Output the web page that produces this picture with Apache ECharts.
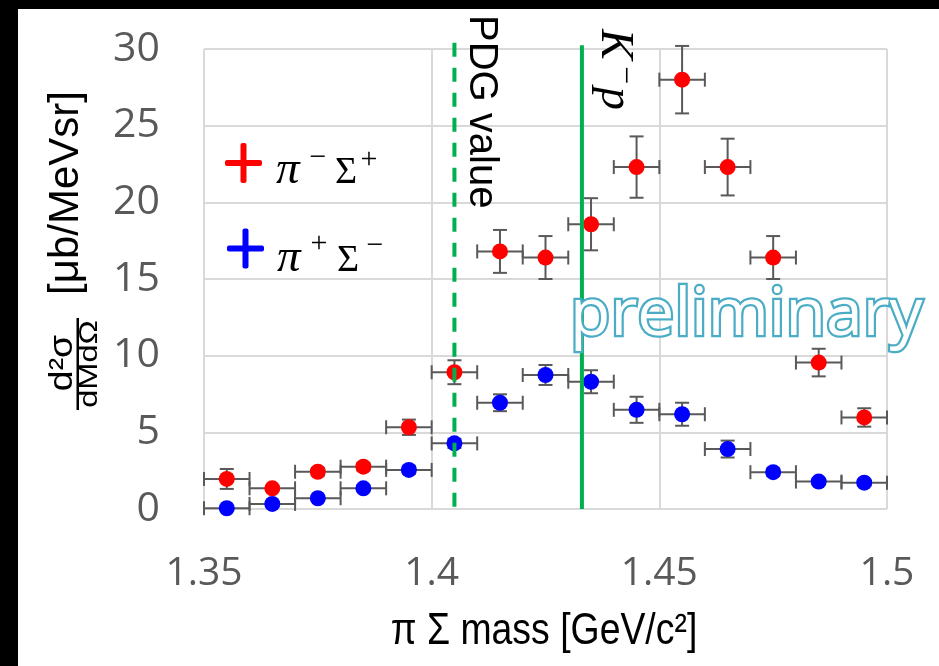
<!DOCTYPE html>
<html><head><meta charset="utf-8">
<script src="https://cdn.jsdelivr.net/npm/echarts@6/dist/echarts.min.js"></script>
<style>html,body{margin:0;padding:0;background:#fff}#c{width:939px;height:666px}</style>
</head><body><div id="c"></div>
<script>
// ---- data ----
const massCenters = [1.355,1.365,1.375,1.385,1.395,1.405,1.415,1.425,1.435,1.445,1.455,1.465,1.475,1.485,1.495];
const binHalfWidth = 0.005;
const piMinusSigmaPlus    = [1.96,1.35,2.43,2.76,5.33,8.92,16.8,16.4,18.57,22.3,28.0,22.3,16.4,9.55,5.97];
const piMinusSigmaPlusErr = [0.65,0.15,0.25,0.25,0.5,0.78,1.4,1.4,1.7,2.0,2.2,1.85,1.4,0.9,0.6];
const piPlusSigmaMinus    = [0.05,0.33,0.7,1.35,2.55,4.28,6.93,8.74,8.3,6.47,6.18,3.91,2.4,1.79,1.72];
const piPlusSigmaMinusErr = [0.1,0.15,0.15,0.2,0.25,0.3,0.55,0.65,0.75,0.85,0.75,0.55,0.25,0.2,0.2];
const pdgMass = 1.405;
const kpThreshold = 1.433;
const xTickLabels = ['1.35','1.4','1.45','1.5'];
const yTickLabels = ['0','5','10','15','20','25','30'];
const xMin = 1.35, xMax = 1.5, xStep = 0.05;
const yMin = 0, yMax = 30, yStep = 5;

// ---- chart ----
const chart = echarts.init(document.getElementById('c'), null, {renderer:'canvas'});
const tickGray = '#595959';
const errColor = '#595959';

function errRender(params, api) {
  const x = api.value(0), y = api.value(1), e = api.value(2);
  const l = api.coord([x - binHalfWidth, y]);
  const r = api.coord([x + binHalfWidth, y]);
  const t = api.coord([x, y + e]);
  const b = api.coord([x, y - e]);
  const cap = 7;
  const st = {stroke: errColor, lineWidth: 2};
  const L = (x1,y1,x2,y2) => ({type:'line', shape:{x1,y1,x2,y2}, style:st});
  return {type:'group', children:[
    L(l[0],l[1],r[0],r[1]),
    L(l[0],l[1]-cap,l[0],l[1]+cap),
    L(r[0],r[1]-cap,r[0],r[1]+cap),
    L(t[0],t[1],b[0],b[1]),
    L(t[0]-cap,t[1],t[0]+cap,t[1]),
    L(b[0]-cap,b[1],b[0]+cap,b[1])
  ]};
}
const redData = massCenters.map((m,i)=>[m, piMinusSigmaPlus[i], piMinusSigmaPlusErr[i]]);
const blueData = massCenters.map((m,i)=>[m, piPlusSigmaMinus[i], piPlusSigmaMinusErr[i]]);

const serif = "'Liberation Serif', 'DejaVu Serif', serif";
const sans = "'Liberation Sans', Arial, sans-serif";

function legendRow(color, cx, cy, baseline, sup1, sup2, piX, sigX) {
  return [
    {type:'rect', z:20, shape:{x:cx-18.5, y:cy-3, width:37, height:6, r:2}, style:{fill:color}},
    {type:'rect', z:20, shape:{x:cx-3, y:cy-20, width:6, height:40, r:2}, style:{fill:color}},
    {type:'text', z:20, x:piX, y:baseline-14, style:{text:'π', font:"italic 47px "+serif, fill:'#000', align:'left', verticalAlign:'middle'}},
    {type:'text', z:20, x:sup1.x, y:sup1.y, style:{text:sup1.t, font:"30px "+serif, fill:'#000', align:'center', verticalAlign:'middle'}},
    {type:'text', z:20, x:sigX, y:baseline-12, style:{text:'Σ', font:"38px "+serif, fill:'#000', align:'left', verticalAlign:'middle'}},
    {type:'text', z:20, x:sup2.x, y:sup2.y, style:{text:sup2.t, font:"30px "+serif, fill:'#000', align:'center', verticalAlign:'middle'}}
  ];
}

const option = {
  animation:false,
  backgroundColor:'#ffffff',
  grid:{left:204, right:52, top:49, bottom:157, containLabel:false},
  xAxis:{type:'value', min:xMin, max:xMax, interval:xStep,
    axisLine:{show:false}, axisTick:{show:false},
    splitLine:{show:true, lineStyle:{color:'#d9d9d9', width:2}},
    axisLabel:{color:tickGray, fontSize:39, fontFamily:"'Open Sans', sans-serif", margin:45,
      formatter:(v)=>{const i=Math.round((v-xMin)/xStep); return xTickLabels[i]!==undefined?xTickLabels[i]:'';}}
  },
  yAxis:{type:'value', min:yMin, max:yMax, interval:yStep,
    axisLine:{show:false}, axisTick:{show:false},
    splitLine:{show:true, lineStyle:{color:'#d9d9d9', width:2}},
    axisLabel:{color:tickGray, fontSize:41, fontFamily:"'Open Sans', sans-serif", margin:44,
      formatter:(v)=>{const i=Math.round((v-yMin)/yStep); return yTickLabels[i]!==undefined?yTickLabels[i]:'';}}
  },
  series:[
    {type:'custom', name:'errBlue', renderItem:errRender, data:blueData, encode:{x:0,y:1}, z:2, silent:true},
    {type:'custom', name:'errRed', renderItem:errRender, data:redData, encode:{x:0,y:1}, z:2, silent:true},
    {type:'scatter', name:'π+Σ-', data:blueData.map(d=>[d[0],d[1]]), symbol:'circle', symbolSize:16, itemStyle:{color:'#0000ff', opacity:1}, z:3},
    {type:'scatter', name:'π-Σ+', data:redData.map(d=>[d[0],d[1]]), symbol:'circle', symbolSize:16, itemStyle:{color:'#ff0000', opacity:1}, z:3},
    {type:'line', name:'PDG', data:[[pdgMass,30.4],[pdgMass,0]], symbol:'none', clip:false, silent:true,
      lineStyle:{color:'#00b050', width:4, type:[14,11]}, z:5},
    {type:'line', name:'Kp', data:[[kpThreshold,30.25],[kpThreshold,0]], symbol:'none', clip:false, silent:true,
      lineStyle:{color:'#00b050', width:4}, z:5}
  ],
  graphic:[
    {type:'rect', shape:{x:0,y:0,width:939,height:9}, style:{fill:'#000'}, z:100},
    {type:'rect', shape:{x:0,y:0,width:18,height:666}, style:{fill:'#000'}, z:100},
    // x title
    {type:'text', z:20, x:544, y:632, scaleX:0.85, style:{text:'π Σ mass [GeV/c²]', font:"44px "+sans, fill:'#000', align:'center', verticalAlign:'middle'}},
    // y title
    {type:'text', z:20, x:66, y:193, rotation:Math.PI/2, style:{text:'[μb/MeVsr]', font:"42px "+sans, fill:'#000', align:'center', verticalAlign:'middle'}},
    {type:'text', z:20, x:63, y:363, rotation:Math.PI/2, scaleX:1.1, style:{text:'d²σ', font:"34px "+sans, fill:'#000', align:'center', verticalAlign:'middle'}},
    {type:'rect', z:20, shape:{x:76.5, y:318, width:2.5, height:92}, style:{fill:'#000'}},
    {type:'text', z:20, x:90, y:364, rotation:Math.PI/2, scaleX:1.25, style:{text:'dMdΩ', font:"26px "+sans, fill:'#000', align:'center', verticalAlign:'middle'}},
    // PDG label
    {type:'text', z:20, x:481, y:15, rotation:-Math.PI/2, style:{text:'PDG value', font:"40px "+sans, fill:'#000', align:'left', verticalAlign:'middle'}},
    // K- p label
    {type:'text', z:20, x:614, y:29, rotation:-Math.PI/2, style:{text:'K', font:"italic 46px "+serif, fill:'#000', align:'left', verticalAlign:'middle'}},
    {type:'text', z:20, x:624, y:75, rotation:-Math.PI/2, style:{text:'−', font:"32px "+serif, fill:'#000', align:'center', verticalAlign:'middle'}},
    {type:'text', z:20, x:614, y:87, rotation:-Math.PI/2, style:{text:'p', font:"italic 46px "+serif, fill:'#000', align:'left', verticalAlign:'middle'}},
    // preliminary
    {type:'text', x:570, y:316, z:50, style:{text:'preliminary', font:"66px 'Open Sans', sans-serif", fill:'#ffffff', stroke:'#4aacc5', lineWidth:4.5,
      shadowColor:'rgba(0,0,0,0.35)', shadowBlur:4, shadowOffsetX:2, shadowOffsetY:2, align:'left', verticalAlign:'middle'}},
    // legend
    ...legendRow('#ff0000', 243.5, 163, 185, {t:'−', x:318, y:158}, {t:'+', x:369, y:160}, 276, 335),
    ...legendRow('#0000ff', 245.5, 248.5, 273, {t:'+', x:319, y:244}, {t:'−', x:375, y:246}, 277, 337)
  ]
};
chart.setOption(option);
</script>
</body></html>
